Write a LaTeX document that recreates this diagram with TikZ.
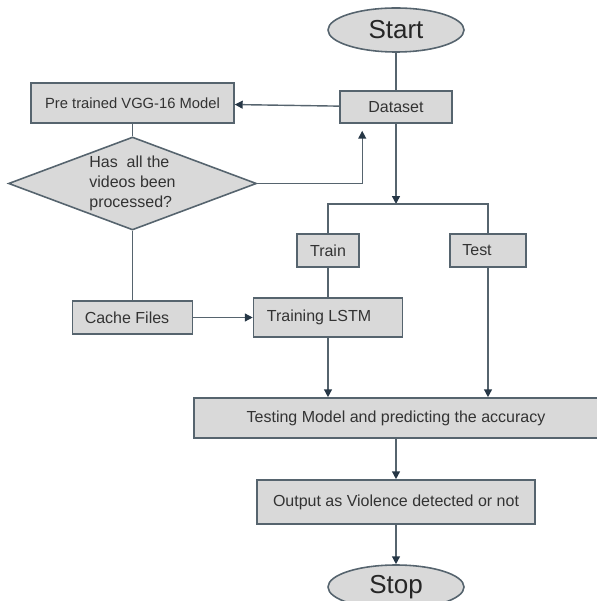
\documentclass[tikz,border=0pt]{standalone}
\usepackage{fontspec}
\setmainfont{Liberation Sans}
\usetikzlibrary{shapes.geometric,arrows.meta}
\definecolor{boxfill}{HTML}{D9D9D9}
\definecolor{boxline}{HTML}{56646E}
\definecolor{tipdark}{HTML}{263746}
\begin{document}
\begin{tikzpicture}[>={Triangle[width=4.5pt,length=4.5pt,color=tipdark]},
  box/.style={draw=boxline, fill=boxfill, rectangle, line width=0.9pt, inner sep=0pt, text=black!80, font=\fontsize{9.1}{11}\selectfont},
  term/.style={draw=boxline, fill=boxfill, ellipse, line width=0.9pt, inner sep=0pt, minimum width=2.72cm, minimum height=0.88cm, text=black!85, font=\fontsize{14.8}{17}\selectfont},
  decision/.style={draw=boxline, fill=boxfill, diamond, line width=0.9pt, inner sep=0pt, shape aspect=2.67, minimum width=4.96cm, minimum height=1.86cm, align=left, text=black!80, font=\fontsize{9.1}{11.4}\selectfont},
  wire/.style={boxline, line width=0.8pt}]
\useasboundingbox (0,0) rectangle (11.92,-12.02);
\node[term] (start) at (7.92,-0.60) {Start};
\node[box, minimum width=2.24cm, minimum height=0.64cm] (data) at (7.92,-2.14) {Dataset};
\node[box, minimum width=4.06cm, minimum height=0.80cm, font=\fontsize{8.4}{10}\selectfont] (vgg) at (2.65,-2.06) {Pre trained VGG-16 Model};
\node[decision] (check) at (2.65,-3.67) {Has~~all the\\videos been\\processed?};
\node[box, minimum width=1.24cm, minimum height=0.66cm] (train) at (6.56,-5.01) {Train};
\node[box, minimum width=1.52cm, minimum height=0.66cm] (test) at (9.76,-5.01) {Test\hspace*{0.44cm}};
\node[box, minimum width=2.40cm, minimum height=0.66cm] (cache) at (2.65,-6.35) {Cache Files\hspace*{0.22cm}};
\node[box, minimum width=2.98cm, minimum height=0.78cm] (lstm) at (6.56,-6.35) {Training LSTM\hspace*{0.36cm}};
\node[box, minimum width=8.08cm, minimum height=0.80cm] (eval) at (7.92,-8.36) {Testing Model and predicting the accuracy};
\node[box, minimum width=5.56cm, minimum height=0.88cm] (out) at (7.92,-10.04) {Output as Violence detected or not};
\node[term] (stop) at (7.92,-11.74) {Stop};
\coordinate (fork) at (7.92,-4.08);
\draw[wire] (start) -- (data);
\draw[wire,->] (data) -- (vgg);
\draw[wire] (vgg) -- (check);
\draw[wire,->,shorten >=0.14cm] (check.east) -| ([xshift=0.46cm]data.south west);
\draw[wire,->] (data) -- (fork);
\draw[wire] (train) |- (fork) -| (test);
\draw[wire] (train) -- (lstm);
\draw[wire] (check) -- (cache);
\draw[wire,->] (cache) -- (lstm);
\draw[wire,->] (lstm) -- (lstm |- eval.north);
\draw[wire,->] (test) -- (test |- eval.north);
\draw[wire,->] (eval) -- (out);
\draw[wire,->] (out) -- (stop);
\end{tikzpicture}
\end{document}
